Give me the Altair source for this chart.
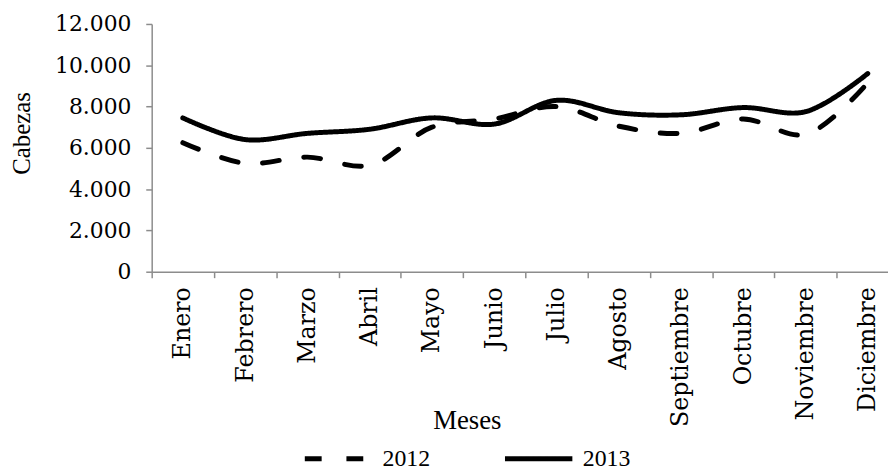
import altair as alt
import pandas as pd

meses = ["Enero", "Febrero", "Marzo", "Abril", "Mayo", "Junio", "Julio",
         "Agosto", "Septiembre", "Octubre", "Noviembre", "Diciembre"]
v2012 = [6250, 5250, 5550, 5150, 7000, 7400, 8000, 7050, 6700, 7400, 6650, 9150]
v2013 = [7450, 6400, 6700, 6900, 7450, 7150, 8300, 7700, 7600, 7950, 7750, 9600]
series = ["2012", "2013"]
y_ticks = [0, 2000, 4000, 6000, 8000, 10000, 12000]

rows = []
for i, m in enumerate(meses):
    rows.append({"Mes": m, "Año": series[0], "Cabezas": v2012[i]})
    rows.append({"Mes": m, "Año": series[1], "Cabezas": v2013[i]})
df = pd.DataFrame(rows)

serif = "DejaVu Serif"
times = "Liberation Serif"

chart = alt.Chart(df).mark_line(
    interpolate="catmull-rom", strokeWidth=5, color="black", strokeCap="round"
).encode(
    x=alt.X("Mes:N", sort=meses,
            scale=alt.Scale(range=[0, 754], paddingInner=0, paddingOuter=0),
            axis=alt.Axis(title="Meses", labelAngle=-90, labelAlign="right",
                          labelBaseline="middle", labelFont=serif, labelFontSize=24,
                          labelColor="black", labelPadding=9, tickBand="extent",
                          tickSize=6, tickColor="#8c8c8c", domainColor="#8c8c8c",
                          domainWidth=1.5, tickWidth=1.5,
                          titleFont=times, titleFontSize=27, titleFontWeight="normal",
                          titleColor="black", titleX=318, titleY=158,
                          titleAlign="center", titleBaseline="alphabetic",
                          titleAnchor="start", grid=False, labelOverlap=False)),
    y=alt.Y("Cabezas:Q",
            scale=alt.Scale(domain=[0, 12000], nice=False),
            axis=alt.Axis(title="Cabezas", values=y_ticks,
                          labelExpr="replace(format(datum.value, ',.0f'), ',', '.')",
                          labelFont=serif, labelFontSize=22, labelColor="black",
                          labelPadding=15, tickSize=6, tickColor="#8c8c8c",
                          domainColor="#8c8c8c", domainWidth=1.5, tickWidth=1.5,
                          titleFont=times, titleFontSize=25, titleFontWeight="normal",
                          titleColor="black", titleX=-123, titleY=110,
                          titleAlign="center", titleBaseline="alphabetic",
                          titleAnchor="start", grid=False)),
    strokeDash=alt.StrokeDash("Año:N",
                              scale=alt.Scale(domain=series, range=[[17, 25], [1, 0]]),
                              legend=alt.Legend(title=None, orient="none",
                                                direction="horizontal",
                                                legendX=152, legendY=402,
                                                symbolType="stroke", symbolSize=4624,
                                                symbolStrokeWidth=5,
                                                symbolStrokeColor="black",
                                                labelFont=times, labelFontSize=24,
                                                labelColor="black", labelOffset=8,
                                                columnPadding=65, padding=0)),
).properties(
    width=743,
    height=250,
    autosize=alt.AutoSizeParams(type="none"),
    padding={"left": 145, "top": 14, "right": 0, "bottom": 200},
).configure_view(stroke=None)

chart.save("out.html", embed_options={"renderer": "svg", "actions": False})
